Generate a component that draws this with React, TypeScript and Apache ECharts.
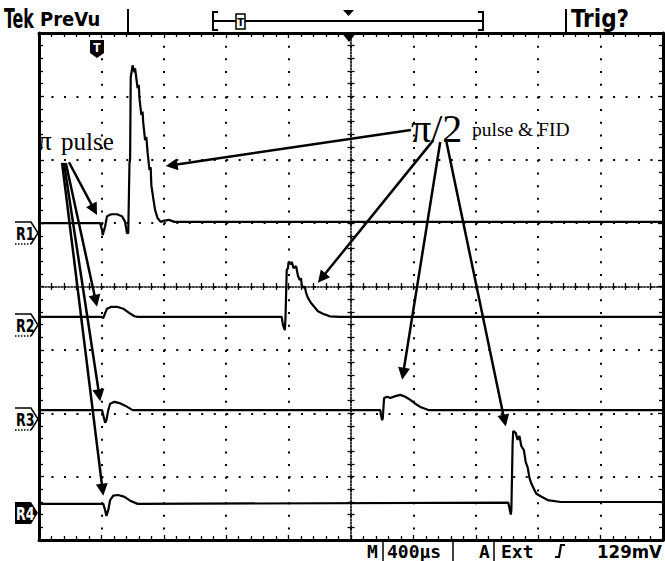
import React, { useEffect, useRef } from "react";
import * as echarts from "echarts";

// Waveforms: [time (div from centre), amplitude (div from centre)]
const r1Trace: number[][] = [
  [-5, 1.0], [-4.02, 1.0], [-3.99, 0.89], [-3.98, 0.81], [-3.94, 0.95], [-3.91, 1.11], [-3.84, 1.14],
  [-3.75, 1.14], [-3.67, 1.11], [-3.62, 1.02], [-3.59, 0.84], [-3.57, 0.84], [-3.55, 1.95], [-3.54, 2.0],
  [-3.53, 3.3], [-3.5, 3.49], [-3.47, 3.38], [-3.46, 3.44], [-3.42, 3.13], [-3.4, 3.18], [-3.39, 2.97],
  [-3.36, 2.71], [-3.34, 2.76], [-3.33, 2.59], [-3.3, 2.31], [-3.28, 2.36], [-3.26, 2.12], [-3.23, 1.84],
  [-3.21, 1.88], [-3.2, 1.6], [-3.17, 1.4], [-3.14, 1.21], [-3.1, 1.08], [-3.05, 1.02], [-2.99, 1.04],
  [-2.91, 1.05], [-2.83, 1.02], [5, 1.02],
];
const r2Trace: number[][] = [
  [-5, -0.48], [-4.0, -0.48], [-3.97, -0.5], [-3.94, -0.42], [-3.91, -0.35], [-3.84, -0.32], [-3.75, -0.32],
  [-3.65, -0.35], [-3.55, -0.42], [-3.47, -0.47], [-3.42, -0.48], [-1.11, -0.48], [-1.09, -0.61], [-1.06, -0.69],
  [-1.05, -0.5], [-1.03, 0.26], [-1.01, 0.29], [-1.0, 0.39], [-0.96, 0.35], [-0.95, 0.39], [-0.92, 0.29],
  [-0.88, 0.32], [-0.85, 0.17], [-0.82, 0.1], [-0.8, 0.13], [-0.79, 0.02], [-0.76, -0.02], [-0.74, 0.0],
  [-0.72, -0.1], [-0.69, -0.18], [-0.64, -0.26], [-0.59, -0.32], [-0.53, -0.39], [-0.45, -0.43], [-0.34, -0.47],
  [-0.18, -0.48], [5, -0.48],
];
const r3Trace: number[][] = [
  [-5, -1.95], [-3.99, -1.95], [-3.97, -2.03], [-3.94, -2.15], [-3.92, -2.11], [-3.89, -1.95], [-3.86, -1.85],
  [-3.79, -1.82], [-3.71, -1.84], [-3.62, -1.88], [-3.5, -1.95], [0.47, -1.95], [0.48, -2.03], [0.5, -2.11],
  [0.51, -2.07], [0.53, -1.76], [0.58, -1.74], [0.63, -1.76], [0.71, -1.73], [0.79, -1.71], [0.87, -1.74],
  [0.95, -1.79], [1.03, -1.85], [1.11, -1.9], [1.24, -1.95], [5, -1.95],
];
const r4Trace: number[][] = [
  [-5, -3.43], [-3.97, -3.43], [-3.94, -3.53], [-3.92, -3.62], [-3.89, -3.53], [-3.86, -3.37], [-3.81, -3.3],
  [-3.73, -3.29], [-3.63, -3.32], [-3.54, -3.38], [-3.42, -3.43], [2.52, -3.41], [2.54, -3.5], [2.56, -3.6],
  [2.57, -3.53], [2.59, -2.47], [2.6, -2.28], [2.64, -2.31], [2.67, -2.42], [2.7, -2.36], [2.73, -2.52],
  [2.77, -2.58], [2.8, -2.77], [2.83, -2.85], [2.86, -3.02], [2.89, -3.11], [2.93, -3.19], [2.97, -3.27],
  [3.04, -3.31], [3.15, -3.37], [3.36, -3.4], [5, -3.4],
];

// Annotation arrows: [x0, y0, x1 (tip), y1 (tip)] in divisions
const piArrows: number[][] = [
  [-4.52, 1.96, -4.07, 1.13],
  [-4.57, 1.95, -4.07, -0.32],
  [-4.6, 1.95, -4.02, -1.81],
  [-4.63, 1.95, -3.97, -3.3],
];
const halfPiArrows: number[][] = [
  [0.96, 2.47, -2.97, 1.9],
  [1.32, 2.31, -0.53, 0.06],
  [1.43, 2.28, 0.82, -1.47],
  [1.53, 2.28, 2.48, -2.21],
];

const refLabels = ["R1", "R2", "R3", "R4"];
const statusTexts = ["M", "400µs", "A", "Ext", "129mV"];

const COND = '"DejaVu Sans Condensed", "Liberation Sans", sans-serif';
const MONO = '"DejaVu Sans Mono", monospace';
const SERIF = '"Liberation Serif", "DejaVu Serif", serif';

function edgeAxis(position: string, split: boolean, dash: number[]) {
  const vertical = position === "left" || position === "right";
  return {
    type: "value",
    min: vertical ? -4 : -5,
    max: vertical ? 4 : 5,
    interval: 1,
    position,
    axisLine: { show: true, onZero: false, lineStyle: { color: "#000", width: 3 } },
    axisTick: { show: true, inside: true, length: 5, lineStyle: { color: "#000", width: 1.3 } },
    minorTick: { show: true, splitNumber: 5, length: 4, lineStyle: { color: "#000", width: 1.3 } },
    axisLabel: { show: false },
    splitLine: { show: split, lineStyle: { color: "#000", width: 2, type: dash } },
  };
}
function centreAxis(position: string, inside: boolean, showLine: boolean) {
  const vertical = position === "left" || position === "right";
  return {
    type: "value",
    min: vertical ? -4 : -5,
    max: vertical ? 4 : 5,
    interval: 1,
    position,
    axisLine: {
      show: showLine,
      onZero: true,
      onZeroAxisIndex: 0,
      lineStyle: { color: "#000", width: 1.6, type: [1.6, 1.6] },
    },
    axisTick: { show: true, inside, length: 3.5, lineStyle: { color: "#000", width: 1.3 } },
    minorTick: { show: true, splitNumber: 5, length: 3.5, lineStyle: { color: "#000", width: 1.3 } },
    axisLabel: { show: false },
    splitLine: { show: false },
  };
}

function refMarker(label: string, y: number, inverted: boolean): any[] {
  const txt = {
    type: "text",
    x: 16,
    y: y + 1,
    scaleX: 0.78,
    style: { text: label, font: `bold 18px ${COND}`, fill: inverted ? "#fff" : "#000", verticalAlign: "middle" },
  };
  if (inverted) {
    return [
      {
        type: "polygon",
        shape: { points: [[15, y - 11], [31, y - 11], [38, y], [31, y + 11], [15, y + 11]] },
        style: { fill: "#000" },
      },
      txt,
    ];
  }
  return [
    {
      type: "polyline",
      shape: { points: [[15, y - 11], [31, y - 11], [38, y], [31, y + 11]] },
      style: { stroke: "#000", lineWidth: 1.5, fill: null },
    },
    {
      type: "line",
      shape: { x1: 15, y1: y + 11, x2: 31, y2: y + 11 },
      style: { stroke: "#000", lineWidth: 1.5, lineDash: [1.5, 1.5] },
    },
    txt,
  ];
}

// pull an arrow's end back so that a centred arrowhead ends on the tip
function shorten(a: number[], px: number) {
  const dxp = (a[2] - a[0]) * 62.4;
  const dyp = (a[3] - a[1]) * 63.4;
  const L = Math.sqrt(dxp * dxp + dyp * dyp);
  const f = (L - px) / L;
  return [a[0], a[1], a[0] + (a[2] - a[0]) * f, a[1] + (a[3] - a[1]) * f];
}

export default function App() {
  const ref = useRef<HTMLDivElement>(null);
  useEffect(() => {
    document.body.style.margin = "0";
    const chart = echarts.init(ref.current!, null, { renderer: "svg" });
    const traceSeries = [r1Trace, r2Trace, r3Trace, r4Trace].map((d, i) => ({
      type: "line",
      name: refLabels[i],
      data: d,
      xAxisIndex: 0,
      yAxisIndex: 0,
      symbol: "none",
      showSymbol: false,
      silent: true,
      z: 5,
      lineStyle: { color: "#000", width: 2.2 },
    }));
    const arrows = [...piArrows, ...halfPiArrows].map((a0) => {
      const a = shorten(a0, 6);
      return [{ coord: [a[0], a[1]] }, { coord: [a[2], a[3]] }];
    });
    const markerY = [233, 325, 419, 513];
    const graphic: any[] = [
      // header
      { type: "text", x: 4, y: 19, scaleX: 0.68, style: { text: "Tek", font: `bold 26px ${COND}`, fill: "#000", verticalAlign: "middle" } },
      { type: "text", x: 40, y: 19, style: { text: "PreVu", font: `bold 20px ${COND}`, fill: "#000", verticalAlign: "middle" } },
      { type: "line", shape: { x1: 128, y1: 9, x2: 128, y2: 33 }, style: { stroke: "#000", lineWidth: 2 } },
      { type: "line", shape: { x1: 213, y1: 21, x2: 483, y2: 21 }, style: { stroke: "#000", lineWidth: 2 } },
      { type: "polyline", shape: { points: [[218, 12], [213, 12], [213, 30], [218, 30]] }, style: { stroke: "#000", lineWidth: 2, fill: null } },
      { type: "polyline", shape: { points: [[478, 12], [483, 12], [483, 30], [478, 30]] }, style: { stroke: "#000", lineWidth: 2, fill: null } },
      { type: "rect", shape: { x: 236, y: 14, width: 9, height: 15 }, style: { fill: "#fff", stroke: "#000", lineWidth: 1.5 } },
      { type: "text", x: 240.5, y: 22, style: { text: "T", font: `bold 11px ${COND}`, fill: "#000", align: "center", verticalAlign: "middle" } },
      { type: "polygon", shape: { points: [[343, 10], [354, 10], [348.5, 16]] }, style: { fill: "#000" } },
      { type: "line", shape: { x1: 566, y1: 9, x2: 566, y2: 33 }, style: { stroke: "#000", lineWidth: 2 } },
      { type: "text", x: 571, y: 19, style: { text: "Trig?", font: `bold 24px ${COND}`, fill: "#000", verticalAlign: "middle" } },
      // trigger position marker and T marker
      { type: "polygon", shape: { points: [[341, 32], [357, 32], [349, 42]] }, style: { fill: "#000" } },
      { type: "polygon", shape: { points: [[90, 40], [104, 40], [104, 53], [97, 58], [90, 53]] }, style: { fill: "#000" } },
      { type: "text", x: 97, y: 48, style: { text: "T", font: `bold 12px ${COND}`, fill: "#fff", align: "center", verticalAlign: "middle" } },
      // annotations
      { type: "text", x: 38, y: 141, style: { text: "π", font: `27px ${SERIF}`, fill: "#000", verticalAlign: "middle" } },
      { type: "text", x: 61, y: 141, style: { text: "pulse", font: `25px ${SERIF}`, fill: "#000", verticalAlign: "middle" } },
      { type: "text", x: 411, y: 128, style: { text: "π/2", font: `40px ${SERIF}`, fill: "#000", verticalAlign: "middle" } },
      { type: "text", x: 472, y: 129, style: { text: "pulse & FID", font: `19.5px ${SERIF}`, fill: "#000", verticalAlign: "middle" } },
      // status line
      { type: "text", x: 367, y: 551, style: { text: statusTexts[0], font: `bold 18px ${MONO}`, fill: "#000", verticalAlign: "middle" } },
      { type: "line", shape: { x1: 383, y1: 541, x2: 383, y2: 561 }, style: { stroke: "#000", lineWidth: 1.5 } },
      { type: "text", x: 387, y: 551, style: { text: statusTexts[1], font: `bold 18px ${MONO}`, fill: "#000", verticalAlign: "middle" } },
      { type: "line", shape: { x1: 453, y1: 541, x2: 453, y2: 561 }, style: { stroke: "#000", lineWidth: 1.5 } },
      { type: "text", x: 479, y: 551, style: { text: statusTexts[2], font: `bold 18px ${MONO}`, fill: "#000", verticalAlign: "middle" } },
      { type: "line", shape: { x1: 494, y1: 541, x2: 494, y2: 561 }, style: { stroke: "#000", lineWidth: 1.5 } },
      { type: "text", x: 501, y: 551, style: { text: statusTexts[3], font: `bold 18px ${MONO}`, fill: "#000", verticalAlign: "middle" } },
      { type: "polyline", shape: { points: [[555, 557], [559, 557], [561, 545], [565, 545]] }, style: { stroke: "#000", lineWidth: 2.2, fill: null } },
      { type: "text", x: 597, y: 551, style: { text: statusTexts[4], font: `bold 18.5px ${COND}`, fill: "#000", verticalAlign: "middle" } },
    ];
    refLabels.forEach((l, i) => graphic.push(...refMarker(l, markerY[i], i === 3)));

    chart.setOption({
      animation: false,
      backgroundColor: "#fff",
      grid: { left: 39, right: 2, top: 33, bottom: 21, containLabel: false },
      xAxis: [
        edgeAxis("bottom", true, [2, 10.68]),
        edgeAxis("top", false, [2, 10.68]),
        centreAxis("bottom", true, true),
        centreAxis("bottom", false, false),
      ],
      yAxis: [
        edgeAxis("left", true, [2, 10.48]),
        edgeAxis("right", false, [2, 10.48]),
        centreAxis("left", true, true),
        centreAxis("left", false, false),
      ],
      series: [
        ...traceSeries,
        {
          type: "line",
          data: [],
          xAxisIndex: 0,
          yAxisIndex: 0,
          silent: true,
          z: 6,
          markLine: {
            silent: true,
            symbol: ["none", "triangle"],
            symbolSize: 12,
            label: { show: false },
            lineStyle: { color: "#000", width: 2.5, type: "solid" },
            emphasis: { disabled: true },
            data: arrows,
          },
        },
      ],
      graphic,
    });
    return () => chart.dispose();
  }, []);
  return <div ref={ref} style={{ width: 665, height: 561 }} />;
}
